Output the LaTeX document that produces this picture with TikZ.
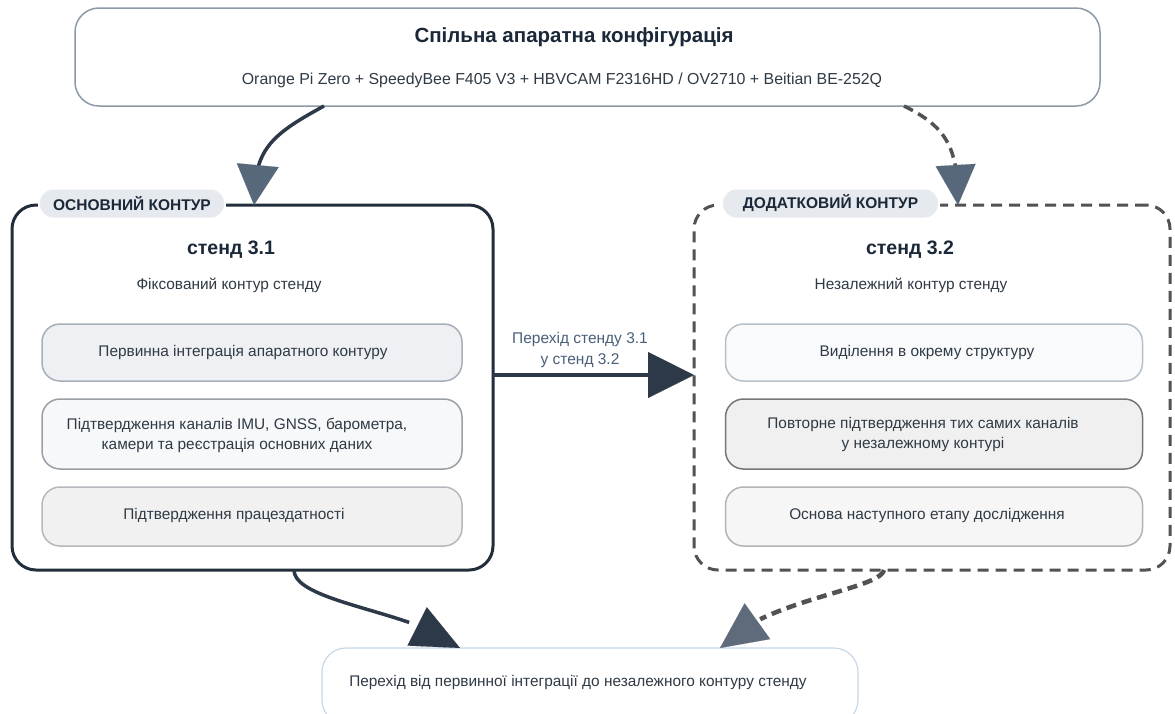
\documentclass[tikz,border=0pt]{standalone}
\usepackage{fontspec}
\setmainfont{Liberation Sans}
\usetikzlibrary{arrows.meta,bending,calc}
\definecolor{navy}{HTML}{1B2838}
\definecolor{bodytext}{HTML}{2F3A45}
\definecolor{darkline}{HTML}{222E3B}
\definecolor{arrowdark}{HTML}{2D3848}
\definecolor{slatehead}{HTML}{56687A}
\definecolor{dashgray}{HTML}{525252}
\definecolor{dashhead}{HTML}{5F6B7A}
\definecolor{topstroke}{HTML}{8D99A6}
\definecolor{pillfill}{HTML}{E6E9ED}
\definecolor{labelblue}{HTML}{4A6078}
\definecolor{bottomstroke}{HTML}{C9D8E6}
\definecolor{fillA}{HTML}{EEF0F3}
\definecolor{fillB}{HTML}{F7F8F9}
\definecolor{fillC}{HTML}{F1F1F1}
\definecolor{fillD}{HTML}{F9FAFB}
\definecolor{fillE}{HTML}{F0F0F0}
\definecolor{fillF}{HTML}{F6F6F6}
\definecolor{strokeA}{HTML}{A7AFB8}
\definecolor{strokeB}{HTML}{9AA0A6}
\definecolor{strokeC}{HTML}{B5B9BD}
\definecolor{strokeD}{HTML}{B7C0CA}
\definecolor{strokeE}{HTML}{767676}
\definecolor{strokeF}{HTML}{B3B3B3}
\newcommand\fsz[2]{\fontsize{#1}{#2}\selectfont}
\tikzset{
  topbox/.style={draw=topstroke, line width=1.5pt, rounded corners=24pt, minimum width=1025pt, minimum height=98pt},
  mainbox/.style={draw=darkline, line width=3pt, rounded corners=24pt, minimum width=481pt, minimum height=365pt},
  altbox/.style={draw=dashgray, line width=3pt, dash pattern=on 11pt off 7pt, rounded corners=24pt, minimum width=476pt, minimum height=365pt},
  pill/.style={fill=pillfill, draw=white, line width=2pt, rounded corners=14pt, minimum height=30pt, font=\fsz{15.5}{18}\bfseries, text=navy},
  innerbox/.style={rounded corners=18pt, line width=1.5pt},
  leftinner/.style={innerbox, minimum width=420pt},
  rightinner/.style={innerbox, minimum width=417pt},
  boxtext/.style={align=center, font=\fsz{15.4}{20}, text=bodytext},
  titletext/.style={font=\fsz{20.5}{24}\bfseries, text=navy},
  headtext/.style={font=\fsz{19.5}{23}\bfseries, text=navy},
  subtext/.style={font=\fsz{15.9}{19}, text=bodytext},
  bodyline/.style={font=\fsz{15.4}{18}, text=bodytext},
  midlabel/.style={font=\fsz{15.5}{21}, text=labelblue, align=center},
  bottombox/.style={draw=bottomstroke, line width=1.2pt, rounded corners=24pt, minimum width=536pt, minimum height=76pt},
  solidconn/.style={draw=arrowdark, line width=3.5pt},
  dashconn/.style={draw=dashgray, line width=3.5pt, dash pattern=on 10pt off 6pt},
}
\begin{document}
\begin{tikzpicture}[x=1pt, y=-1pt, every node/.style={inner sep=0pt, outer sep=0pt}]
\useasboundingbox (0,0) rectangle (1175,713);
\fill[white] (0,0) rectangle (1175,713);

% top box
\node[topbox] (top) at (587.5,57) {};
\node[titletext] (title) at (574,37) {Спільна апаратна конфігурація};
\node[subtext] (sub) at (562,80) {Orange Pi Zero + SpeedyBee F405 V3 + HBVCAM F2316HD / OV2710 + Beitian BE-252Q};

% main boxes
\node[mainbox] (left) at (252.5,387.5) {};
\node[altbox] (right) at (932,387.5) {};

% bottom box
\node[bottombox] (bottom) at (590,686) {};
\node[bodyline] (btext) at (578,683) {Перехід від первинної інтеграції до незалежного контуру стенду};

% pills
\node[pill, minimum width=186pt] (lpill) at (132,203.5) {ОСНОВНИЙ КОНТУР};
\node[pill, minimum width=217pt] (rpill) at (830.5,203.5) {ДОДАТКОВИЙ КОНТУР};

% headers
\node[headtext] (s31) at (231,250) {стенд 3.1};
\node[bodyline] (f31) at (229,285) {Фіксований контур стенду};
\node[headtext] (s32) at (910,250) {стенд 3.2};
\node[bodyline] (f32) at (911,285) {Незалежний контур стенду};

% left inner
\node[leftinner, fill=fillA, draw=strokeA, minimum height=57pt] (l1) at (252,352.5) {};
\node[leftinner, fill=fillB, draw=strokeB, minimum height=70pt] (l2) at (252,434) {};
\node[leftinner, fill=fillC, draw=strokeC, minimum height=59pt] (l3) at (252,516.5) {};
\node[boxtext] (l1t) at ([xshift=-9pt]l1.center) {Первинна інтеграція апаратного контуру};
\node[boxtext] (l2t) at ([xshift=-15pt,yshift=-1pt]l2.center) {Підтвердження каналів IMU, GNSS, барометра,\\камери та реєстрація основних даних};
\node[boxtext] (l3t) at ([xshift=-18pt,yshift=1pt]l3.center) {Підтвердження працездатності};

% right inner
\node[rightinner, fill=fillD, draw=strokeD, minimum height=57pt] (r1) at (934,352.5) {};
\node[rightinner, fill=fillE, draw=strokeE, minimum height=70pt] (r2) at (934,434) {};
\node[rightinner, fill=fillF, draw=strokeF, minimum height=59pt] (r3) at (934,516.5) {};
\node[boxtext] (r1t) at ([xshift=-7pt]r1.center) {Виділення в окрему структуру};
\node[boxtext] (r2t) at ([xshift=-11pt,yshift=-1pt]r2.center) {Повторне підтвердження тих самих каналів\\у незалежному контурі};
\node[boxtext] (r3t) at ([xshift=-7pt,yshift=1pt]r3.center) {Основа наступного етапу дослідження};

% middle arrow
\draw[solidconn, line width=4pt, -{Triangle[length=46pt,width=46pt,color=arrowdark,fill=arrowdark,line width=0.1pt]}]
  ([yshift=12.5pt]left.east) -- ([yshift=12.5pt]right.west);
\node[midlabel] (ml) at (580,349.5) {Перехід стенду 3.1\\у стенд 3.2};

% top arrows
\draw[solidconn, -{Triangle[flex,length=40pt,width=42pt,color=slatehead,fill=slatehead,line width=0.1pt]}]
  ([xshift=-263.5pt]top.south) .. controls +(-55,30) and +(0,-55) .. ([xshift=1.5pt]left.north);
\draw[dashconn, -{Triangle[flex,length=40pt,width=40pt,color=slatehead,fill=slatehead,line width=0.1pt]}]
  ([xshift=316.5pt]top.south) .. controls +(45,22) and +(0,-55) .. ([xshift=26pt]right.north);

% bottom arrows
\draw[solidconn, -{Triangle[flex,length=48pt,width=43pt,color=arrowdark,fill=arrowdark,line width=0.1pt]}]
  ([xshift=41.5pt]left.south) .. controls +(0,33) and +(-40,-36) .. ([xshift=-130pt]bottom.north);
\draw[dashconn, line width=4.5pt, -{Triangle[flex,length=46pt,width=44pt,color=dashhead,fill=dashhead,line width=0.1pt]}]
  ([xshift=-48pt]right.south) .. controls +(-4,20) and +(40,-48) .. ([xshift=130pt]bottom.north);
\end{tikzpicture}
\end{document}
